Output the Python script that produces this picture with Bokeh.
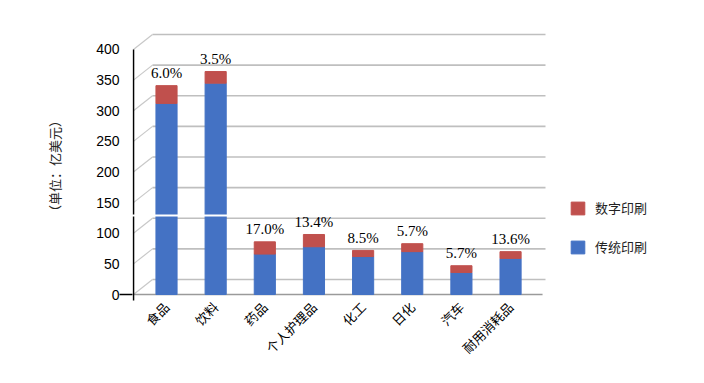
from math import pi
from bokeh.plotting import figure
from bokeh.models import (ColumnDataSource, FixedTicker, LinearAxis, Legend,
                          LegendItem, Range1d)
from bokeh.core.properties import value
from bokeh.embed import file_html
from bokeh.resources import INLINE

# ---- data ----
categories = ["食品", "饮料", "药品", "个人护理品", "化工", "日化", "汽车", "耐用消耗品"]
traditional = [312, 345, 66, 78, 62, 70, 36, 59]      # 传统印刷
digital = [29, 19, 20, 20, 10, 13, 11, 11]            # 数字印刷
digital_share = ["6.0%", "3.5%", "17.0%", "13.4%", "8.5%", "5.7%", "5.7%", "13.6%"]
y_ticks = [0, 50, 100, 150, 200, 250, 300, 350, 400]
series_names = ["传统印刷", "数字印刷"]
y_title = "（单位：亿美元）"

# ---- style ----
BLUE = "#4472C4"
RED = "#C0504D"
CJK = "Noto Sans CJK SC"

xs = list(range(len(categories)))
totals = [a + b for a, b in zip(traditional, digital)]
src = ColumnDataSource(dict(x=xs, traditional=traditional, digital=digital))

X0, X1 = -0.692, 10.702
WALL_END = 7.711
Y0, Y1 = -11.4, 431.0
DX, DY = 0.387, 24.5          # pseudo-3D depth offset
AX = X0 + 0.02                # front vertical axis position
BREAK_LO, BREAK_HI = 127.5, 130.5

p = figure(frame_width=560, frame_height=271, x_range=Range1d(X0, X1),
           y_range=Range1d(Y0, Y1),
           output_backend="svg", toolbar_location=None, y_axis_location=None,
           min_border_left=132, min_border_right=4, min_border_top=30,
           min_border_bottom=74)
p.grid.visible = False
p.outline_line_color = None

n = len(y_ticks)
# back wall gridlines
p.segment(x0=[AX + DX] * n, y0=[v + DY for v in y_ticks], x1=[WALL_END] * n,
          y1=[v + DY for v in y_ticks], line_color="#bfbfbf", line_width=1.6)
# side wall diagonals
p.segment(x0=[AX] * n, y0=y_ticks, x1=[AX + DX] * n, y1=[v + DY for v in y_ticks],
          line_color="#c8c8c8", line_width=1.2)
# front floor line
p.segment(x0=[AX], y0=[0], x1=[WALL_END - 0.06], y1=[0], line_color="#9a9a9a",
          line_width=1.5)

rs = p.vbar_stack(["traditional", "digital"], x="x", width=0.43, color=[BLUE, RED],
                  source=src)

# axis break
p.quad(left=[X0], right=[1.5], bottom=[BREAK_LO], top=[BREAK_HI],
       fill_color="white", line_color=None)
# vertical axis line with break
p.segment(x0=[AX, AX], y0=[-9.8, BREAK_HI], x1=[AX, AX], y1=[BREAK_LO, 400],
          line_color="black", line_width=1.6)

p.text(x=xs, y=[t + 8 for t in totals], text=digital_share,
       text_font=value("Liberation Serif"), text_font_size="15px",
       text_align="center", text_baseline="bottom", text_color="black")

# tick at zero only
axA = LinearAxis(ticker=FixedTicker(ticks=[0]), major_label_overrides={0: ""},
                 major_tick_out=13, major_tick_in=0, minor_tick_out=0, minor_tick_in=0,
                 axis_line_color=None, major_tick_line_color="black",
                 major_tick_line_width=1.5, major_label_standoff=0)
p.add_layout(axA, "left")
axB = LinearAxis(ticker=FixedTicker(ticks=y_ticks), major_tick_out=0, major_tick_in=0,
                 minor_tick_out=0, minor_tick_in=0, axis_line_color=None,
                 major_tick_line_color=None,
                 major_label_text_font="Liberation Sans",
                 major_label_text_font_size="14px", major_label_text_color="black",
                 major_label_standoff=0, axis_label=y_title,
                 axis_label_text_font=CJK, axis_label_text_font_size="13px",
                 axis_label_text_font_style="normal", axis_label_text_color="#222222",
                 axis_label_standoff=29)
p.add_layout(axB, "left")

xa = p.xaxis[0]
xa.ticker = FixedTicker(ticks=xs)
xa.major_label_overrides = {i: c for i, c in zip(xs, categories)}
xa.major_label_orientation = pi / 4
xa.major_label_text_font = CJK
xa.major_label_text_font_size = "13px"
xa.major_label_text_color = "black"
xa.axis_line_color = None
xa.major_tick_line_color = None
xa.minor_tick_line_color = None
xa.major_label_standoff = -3

legend = Legend(items=[LegendItem(label=series_names[1], renderers=[rs[1]]),
                       LegendItem(label=series_names[0], renderers=[rs[0]])],
                location=(437, 45), glyph_width=17, glyph_height=16, label_height=16,
                label_standoff=9, spacing=20, label_text_font=CJK,
                label_text_font_size="13px", label_text_color="#222222",
                border_line_color=None, background_fill_alpha=0, padding=0, margin=0)
p.add_layout(legend)

open("out.html", "w").write(file_html(p, INLINE))
